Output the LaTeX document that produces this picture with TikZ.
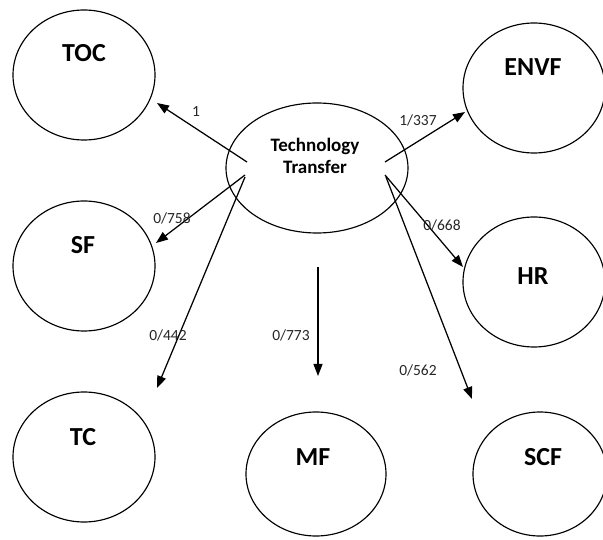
\documentclass[tikz,border=0pt]{standalone}
\usepackage{fontspec}
\setmainfont{Carlito}
\usetikzlibrary{shapes.geometric,arrows.meta}

\tikzset{
  factor/.style={draw=black, line width=1.15pt, ellipse, inner sep=0pt,
                 minimum width=142pt, minimum height=130pt},
  factorname/.style={font=\bfseries\fontsize{26}{30}\selectfont, inner sep=0pt},
  coefficient/.style={font=\fontsize{15.5}{18}\selectfont, text=black!85, inner sep=0pt},
  path/.style={draw=black, line width=1.25pt, -{Triangle[length=12pt,width=9pt]}}
}

\begin{document}
\begin{tikzpicture}[x=1pt,y=-1pt]
\useasboundingbox (0,0) rectangle (603,540);

% central construct
\node[factor, minimum width=182pt, minimum height=130pt] (tt) at (317,168) {};
\node[font=\bfseries\fontsize{19}{22}\selectfont, align=center, inner sep=0pt]
  (tt-t) at (315,156) {Technology\\Transfer};

% outcome constructs
\node[factor] (toc) at (84,75) {};
\node[factorname] (toc-t) at (84,53) {TOC};
\node[factor] (envf) at (534,88) {};
\node[factorname] (envf-t) at (533,67) {ENVF};
\node[factor] (sf) at (84,266) {};
\node[factorname] (sf-t) at (83,245) {SF};
\node[factor] (hr) at (534,282) {};
\node[factorname] (hr-t) at (533,276) {HR};
\node[factor] (tc) at (84,457) {};
\node[factorname] (tc-t) at (83,437) {TC};
\node[factor, minimum width=140pt, minimum height=124pt] (mf) at (316,474) {};
\node[factorname] (mf-t) at (313,457) {MF};
\node[factor, minimum width=134pt, minimum height=124pt] (scf) at (540,474) {};
\node[factorname] (scf-t) at (543,457) {SCF};

% path end points
\coordinate (s-toc) at (247,162);  \coordinate (e-toc) at (157,103);
\coordinate (s-envf) at (385,162); \coordinate (e-envf) at (465,112);
\coordinate (s-sf) at (245,175);   \coordinate (e-sf) at (156,243);
\coordinate (s-tc) at (245,177);   \coordinate (e-tc) at (157,388);
\coordinate (s-mf) at (318,267);   \coordinate (e-mf) at (318,376);
\coordinate (s-hr) at (385,175);   \coordinate (e-hr) at (463,267);
\coordinate (s-scf) at (386,177);  \coordinate (e-scf) at (472,399);

\draw[path] (s-toc) -- (e-toc);
\draw[path] (s-envf) -- (e-envf);
\draw[path] (s-sf) -- (e-sf);
\draw[path] (s-tc) -- (e-tc);
\draw[path] (s-mf) -- (e-mf);
\draw[path] (s-hr) -- (e-hr);
\draw[path] (s-scf) -- (e-scf);

% path coefficients
\node[coefficient] (c-toc) at (196,112) {1};
\node[coefficient] (c-envf) at (418,120) {1/337};
\node[coefficient] (c-sf) at (172,218) {0/758};
\node[coefficient] (c-tc) at (168,335) {0/442};
\node[coefficient] (c-mf) at (291,335) {0/773};
\node[coefficient] (c-hr) at (442,225) {0/668};
\node[coefficient] (c-scf) at (418,370) {0/562};
\end{tikzpicture}
\end{document}
